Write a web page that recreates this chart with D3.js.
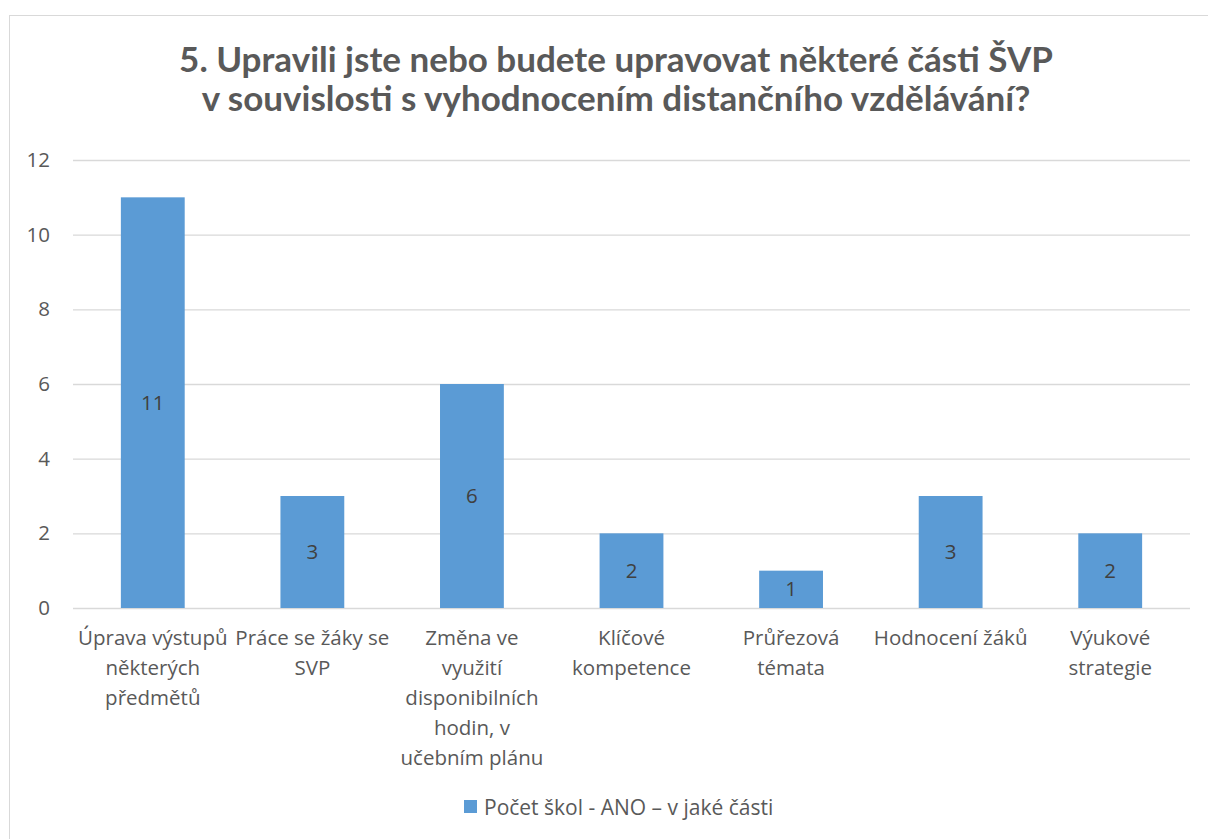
<!DOCTYPE html>
<html lang="cs">
<head>
<meta charset="utf-8">
<script src="https://cdn.jsdelivr.net/npm/d3@7"></script>
<style>
  body { margin: 0; background: #fff; }
  text { font-family: "Open Sans", Lato, sans-serif; }
</style>
<title>Upravili jste ŠVP</title>
</head>
<body>
<svg width="1208" height="839" id="plot"></svg>
<script>
// data
const categories = [
    ["Úprava výstupů", "některých", "předmětů"],
    ["Práce se žáky se", "SVP"],
    ["Změna ve", "využití", "disponibilních", "hodin, v", "učebním plánu"],
    ["Klíčové", "kompetence"],
    ["Průřezová", "témata"],
    ["Hodnocení žáků"],
    ["Výukové", "strategie"]
]
const values = [11, 3, 6, 2, 1, 3, 2]
const yTicks = [0, 2, 4, 6, 8, 10, 12]
const seriesName = "Počet škol - ANO – v jaké části"
const titleLines = ["5. Upravili jste nebo budete upravovat některé části ŠVP",
    "v souvislosti s vyhodnocením distančního vzdělávání?"]

let svg = d3.select("#plot")

// frame
svg.append("rect")
    .attr("x", 9.5).attr("y", 15.5)
    .attr("width", 1230).attr("height", 850)
    .attr("fill", "#fff")
    .attr("stroke", "#d9d9d9")

// title
svg.append("g").selectAll("text")
    .data(titleLines)
    .enter()
    .append("text")
    .attr("x", 616)
    .attr("y", (d, i) => 72 + i * 39)
    .attr("text-anchor", "middle")
    .style("font-family", "Lato, sans-serif")
    .style("font-size", "35px")
    .style("font-weight", "bold")
    .attr("fill", "#595959")
    .text(d => d)

// scales
const idx = d3.range(values.length)
let x = d3.scaleBand().domain(idx).range([73, 1190]).paddingInner(0.6).paddingOuter(0.3)
let y = d3.scaleLinear().domain([0, 12]).range([608, 160])

// grid
svg.append("g").selectAll("line")
    .data(yTicks)
    .enter()
    .append("line")
    .attr("x1", 73).attr("x2", 1190)
    .attr("y1", d => y(d) + 0.5).attr("y2", d => y(d) + 0.5)
    .attr("stroke", "#d9d9d9")
    .attr("stroke-width", 1.3)

// y axis labels
let axisY = d3.axisLeft(y).tickValues(yTicks).tickSize(0).tickPadding(0)
let gy = svg.append("g").attr("transform", "translate(50,0)").call(axisY)
gy.select(".domain").remove()
gy.selectAll("text")
    .style("font-size", "20.5px")
    .style("font-family", "'Open Sans', sans-serif")
    .attr("fill", "#595959")

// bars
svg.append("g").selectAll("rect")
    .data(values)
    .enter()
    .append("rect")
    .attr("x", (d, i) => x(i))
    .attr("width", x.bandwidth())
    .attr("y", d => y(d))
    .attr("height", d => y(0) - y(d))
    .attr("fill", "#5b9bd5")

// data labels
svg.append("g").selectAll("text")
    .data(values)
    .enter()
    .append("text")
    .attr("x", (d, i) => x(i) + x.bandwidth() / 2)
    .attr("y", d => (y(d) + y(0)) / 2 + 7)
    .attr("text-anchor", "middle")
    .style("font-size", "20.5px")
    .attr("fill", "#404040")
    .text(d => d)

// category labels
let cats = svg.append("g").selectAll("text")
    .data(categories)
    .enter()
    .append("text")
    .attr("text-anchor", "middle")
    .style("font-size", "20.5px")
    .attr("fill", "#595959")
cats.each(function(lines, i) {
    d3.select(this).selectAll("tspan")
        .data(lines)
        .enter()
        .append("tspan")
        .attr("x", x(i) + x.bandwidth() / 2)
        .attr("y", (d, j) => 645 + j * 30)
        .text(d => d)
})

// legend
svg.append("rect")
    .attr("x", 464).attr("y", 800)
    .attr("width", 13).attr("height", 13)
    .attr("fill", "#5b9bd5")
svg.append("text")
    .attr("x", 484).attr("y", 815)
    .style("font-size", "21px")
    .attr("fill", "#595959")
    .text(seriesName)
</script>
</body>
</html>
